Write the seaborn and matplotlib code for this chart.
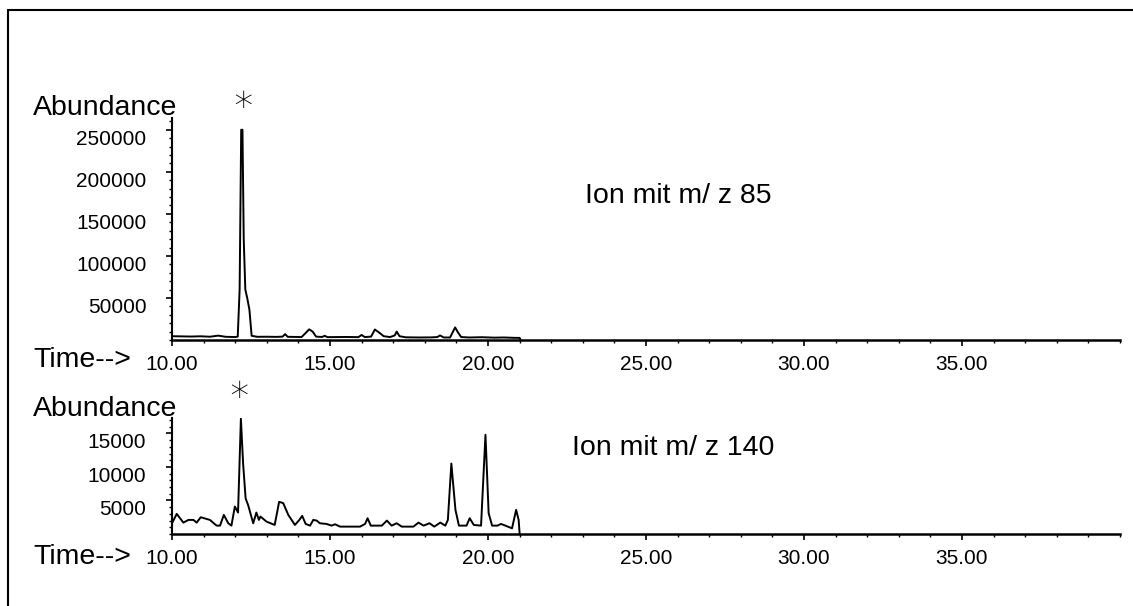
import numpy as np
import pandas as pd
import matplotlib
matplotlib.use("Agg")
import matplotlib.pyplot as plt
from matplotlib.ticker import MultipleLocator
from matplotlib.lines import Line2D
import seaborn as sns

# ---------------- data ----------------
top_time = [10.00, 10.30, 10.60, 10.90, 11.20, 11.46, 11.70, 12.00, 12.08, 12.14,
            12.19, 12.23, 12.27, 12.32, 12.38, 12.45, 12.52, 12.70, 13.00, 13.30,
            13.50, 13.58, 13.66, 14.10, 14.22, 14.34, 14.45, 14.56, 14.75, 14.83,
            14.92, 15.20, 15.50, 15.90, 16.00, 16.10, 16.30, 16.42, 16.55, 16.70,
            16.90, 17.05, 17.11, 17.20, 17.40, 17.80, 18.20, 18.40, 18.48, 18.60,
            18.80, 18.88, 18.96, 19.05, 19.15, 19.40, 19.80, 20.20, 20.50, 20.80,
            21.00, 21.03]
top_abund = [4500, 4300, 4100, 4400, 3900, 5200, 3800, 3500, 4000, 60000,
             250000, 250000, 120000, 60000, 50000, 36000, 5000, 3800, 3900, 3700,
             4000, 7000, 3800, 3500, 8000, 12700, 10000, 4000, 3600, 5000,
             3400, 3500, 3600, 3400, 6000, 3500, 4000, 12500, 9000, 4500,
             3500, 5500, 10000, 4500, 3200, 3000, 3100, 3500, 5500, 3000,
             3000, 9000, 15000, 9000, 3500, 3000, 3300, 2800, 3000, 2600,
             2500, 500]

bot_time = [10.00, 10.15, 10.36, 10.52, 10.68, 10.78, 10.91, 11.20, 11.41, 11.52,
            11.64, 11.78, 11.88, 11.99, 12.09, 12.18, 12.25, 12.33, 12.41, 12.57,
            12.67, 12.75, 12.80, 12.99, 13.25, 13.39, 13.52, 13.68, 13.89, 14.03,
            14.12, 14.23, 14.37, 14.47, 14.58, 14.68, 14.89, 15.05, 15.16, 15.32,
            15.95, 16.11, 16.19, 16.29, 16.64, 16.80, 16.95, 17.11, 17.27, 17.64,
            17.80, 17.96, 18.15, 18.30, 18.49, 18.65, 18.73, 18.84, 18.97, 19.08,
            19.32, 19.42, 19.55, 19.78, 19.92, 20.02, 20.13, 20.30, 20.41, 20.55,
            20.76, 20.89, 20.97, 21.00]
bot_abund = [1600, 3000, 1700, 2100, 2100, 1700, 2500, 2100, 1250, 1250,
             2850, 1600, 1250, 4100, 3200, 17200, 10500, 5300, 4300, 1600,
             3200, 2100, 2600, 1850, 1350, 4800, 4600, 2850, 1350, 2100,
             2700, 1500, 1250, 2100, 2000, 1600, 1500, 1250, 1450, 1100,
             1100, 1500, 2350, 1250, 1250, 2000, 1250, 1600, 1100, 1100,
             1700, 1250, 1600, 1100, 1700, 1250, 2100, 10500, 3600, 1250,
             1250, 2350, 1350, 1250, 14800, 3100, 1250, 1250, 1500, 1250,
             850, 3600, 2100, 100]

x_major = [10, 15, 20, 25, 30, 35]
x_labels = ["10.00", "15.00", "20.00", "25.00", "30.00", "35.00"]
top_yticks = [50000, 100000, 150000, 200000, 250000]
bot_yticks = [5000, 10000, 15000]
ion_labels = ["Ion mit m/ z 85", "Ion mit m/ z 140"]

# ---------------- style ----------------
sns.set_style("ticks")
plt.rcParams['font.family'] = ['Liberation Sans', 'DejaVu Sans']
plt.rcParams['text.color'] = 'black'

W, H = 1133, 606
fig = plt.figure(figsize=(W / 100, H / 100), dpi=100)

def fx(px):
    return px / W

def fy(py):
    return 1 - py / H

ax_top = fig.add_axes([fx(172), fy(340), fx(1120) - fx(172), fy(118) - fy(340)])
ax_bot = fig.add_axes([fx(172), fy(534), fx(1120) - fx(172), fy(418) - fy(534)])

df_top = pd.DataFrame({"time": top_time, "abund": top_abund})
df_bot = pd.DataFrame({"time": bot_time, "abund": bot_abund})

sns.lineplot(data=df_top, x="time", y="abund", ax=ax_top, color="black",
             linewidth=1.4, estimator=None, sort=False)
sns.lineplot(data=df_bot, x="time", y="abund", ax=ax_bot, color="black",
             linewidth=1.4, estimator=None, sort=False)

for ax, yt, ymax, yminor in [(ax_top, top_yticks, 264000, 10000),
                             (ax_bot, bot_yticks, 17300, 1000)]:
    ax.set_xlim(10, 40)
    ax.set_ylim(0, ymax)
    ax.set_xlabel("")
    ax.set_ylabel("")
    ax.spines['top'].set_visible(False)
    ax.spines['right'].set_visible(False)
    ax.spines['left'].set_linewidth(1.5)
    ax.spines['left'].set_color('black')
    ax.spines['bottom'].set_linewidth(1.8)
    ax.spines['bottom'].set_color('black')
    ax.set_xticks(x_major)
    ax.set_xticklabels(x_labels)
    ax.xaxis.set_minor_locator(MultipleLocator(1))
    ax.set_yticks(yt)
    ax.set_yticklabels([str(v) for v in yt])
    ax.yaxis.set_minor_locator(MultipleLocator(yminor))
    ax.tick_params(axis='x', which='major', length=4.5, width=1.2, pad=6,
                   labelsize=15, colors='black')
    ax.tick_params(axis='x', which='minor', length=2.5, width=1.0, colors='black')
    ax.tick_params(axis='y', which='major', length=4.5, width=1.2, pad=14,
                   labelsize=15, colors='black')
    ax.tick_params(axis='y', which='minor', length=2.5, width=1.0, colors='black')
    for lab in ax.get_yticklabels():
        lab.set_va('top')
    ax.set_facecolor('white')

big = 20.5
# Abundance labels
fig.text(fx(33), fy(115), "Abundance", fontsize=big, va='baseline', ha='left', color='black')
fig.text(fx(33), fy(416), "Abundance", fontsize=big, va='baseline', ha='left', color='black')
# Time labels
fig.text(fx(33), fy(367), "Time-->", fontsize=big, va='baseline', ha='left', color='black')
fig.text(fx(33), fy(564), "Time-->", fontsize=big, va='baseline', ha='left', color='black')
# Ion labels
fig.text(fx(585), fy(203), ion_labels[0], fontsize=big, va='baseline', ha='left', color='black')
fig.text(fx(572), fy(455), ion_labels[1], fontsize=big, va='baseline', ha='left', color='black')
# Asterisks
fig.text(fx(243), fy(101), "\u2217", fontsize=27, va='center', ha='center',
         family=['DejaVu Sans'], fontweight='light', color='black')
fig.text(fx(239), fy(390), "\u2217", fontsize=27, va='center', ha='center',
         family=['DejaVu Sans'], fontweight='light', color='black')

# Frame (top and left edge)
fig.add_artist(Line2D([fx(8), 1.0], [fy(10), fy(10)], color='black', linewidth=1.5,
                      transform=fig.transFigure))
fig.add_artist(Line2D([fx(8), fx(8)], [fy(10), 0.0], color='black', linewidth=1.5,
                      transform=fig.transFigure))

fig.savefig("out.png", dpi=100, facecolor='white')
